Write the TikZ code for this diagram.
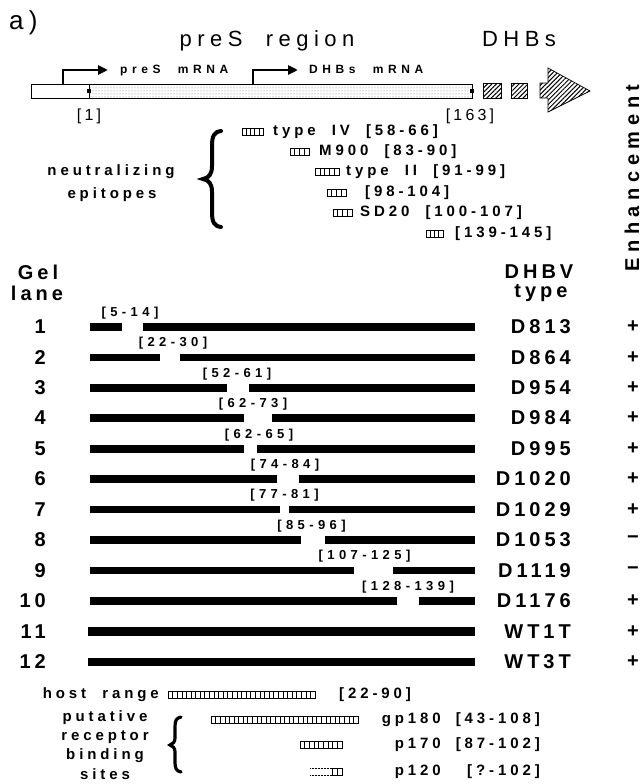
\documentclass[tikz,border=0pt]{standalone}
\usepackage{fontspec}
\setmainfont{Liberation Sans}
\newfontfamily\bigf[LetterSpace=20,WordSpace=2]{Liberation Sans}
\newfontfamily\enhf[LetterSpace=28]{Liberation Sans}
\newfontfamily\ttlf[LetterSpace=25,WordSpace=2]{Liberation Sans}
\newfontfamily\smf[LetterSpace=26,WordSpace=2]{Liberation Sans}
\newfontfamily\lblf[LetterSpace=34]{Liberation Sans}
\newfontfamily\mrnaf[LetterSpace=38,WordSpace=2.2]{Liberation Sans}
\usetikzlibrary{patterns,patterns.meta,arrows.meta}
\newcommand\vbarbox[3]{%
  \pgfmathsetmacro\vbw{#2-#1}%
  \pgfmathtruncatemacro\vbn{max(2,round(\vbw/4.6))}%
  \pgfmathtruncatemacro\vbm{\vbn-1}%
  \draw[line width=.7pt,fill=white] (#1,#3-3.5) rectangle (#2,#3+3.5);%
  \foreach \k in {1,...,\vbm}{\draw[line width=.55pt] ({#1+\k*\vbw/\vbn},#3-3.5) -- ({#1+\k*\vbw/\vbn},#3+3.5);}%
}
\begin{document}
\begin{tikzpicture}[x=1pt,y=-1pt,
  tbig/.style={inner sep=0pt, font=\fontsize{20}{24}\selectfont\bigf\bfseries},
  ttitle/.style={inner sep=0pt, font=\fontsize{22}{26}\selectfont\ttlf},
  tsm/.style={inner sep=0pt, font=\fontsize{15}{18}\selectfont\smf\bfseries},
  tbot/.style={inner sep=0pt, font=\fontsize{15}{18}\selectfont\smf\bfseries},
  tlab/.style={inner sep=0pt, font=\fontsize{13}{15}\selectfont\lblf\bfseries},
  tmrna/.style={inner sep=0pt, font=\fontsize{12}{14}\selectfont\mrnaf\bfseries},
  tpos/.style={inner sep=0pt, font=\fontsize{16}{19}\selectfont\bigf},
  hatch/.style={line width=.7pt, pattern={Lines[angle=45,distance=3.2pt,line width=1pt]}},
  bentarrow/.style={line width=2.6pt, -{Triangle[length=10pt,width=9pt]}},
  bracestroke/.style={line width=4pt, line cap=round}
]
\useasboundingbox (0,0) rectangle (642,784);
\fill[white] (0,0) rectangle (642,784);

% ---- header
\node[anchor=base west, inner sep=0pt, font=\fontsize{26}{30}\selectfont\bigf] (lbl-a) at (9,30) {a)};
\node[ttitle, anchor=base] (preS) at (267,47) {preS region};
\node[ttitle, anchor=base] (dhbs) at (519,47) {DHBs};

% ---- genome box
\fill[pattern=dots, pattern color=black!55] (89,84) rectangle (472,98);
\draw[line width=.8pt] (31.5,84) rectangle (472,98);
\draw[line width=.5pt] (89,84) -- (89,98);
\fill (87.3,89.3) rectangle (90.7,92.7);
\fill (470.3,89.3) rectangle (473.7,92.7);
\draw[hatch] (483,83.5) rectangle (501,98);
\draw[hatch] (511,83.5) rectangle (527,98);
\draw[hatch] (540,83) -- (548,83) -- (548,68) -- (590,91) -- (548,112) -- (548,98) -- (540,98) -- cycle;

\coordinate (a1s) at (63,84);
\coordinate (a1e) at (108,70);
\coordinate (a2s) at (253,84);
\coordinate (a2e) at (298,70);
\draw[bentarrow] (a1s) |- (a1e);
\draw[bentarrow] (a2s) |- (a2e);
\node[tmrna, anchor=base west] (m1) at (120,74) {preS mRNA};
\node[tmrna, anchor=base west] (m2) at (309,74) {DHBs mRNA};
\node[tpos] (p1) at (89,116) {[1]};
\node[tpos] (p163) at (470,116) {[163]};

% ---- neutralizing epitopes
\node[tsm] (neut) at (111,172) {neutralizing};
\node[tsm] (epit) at (112,195) {epitopes};
\draw[bracestroke] (221,131) .. controls (214,132) and (212,136) .. (212,146) -- (212,166)
  .. controls (212,174) and (209,178) .. (203,179)
  .. controls (209,180) and (212,184) .. (212,192) -- (212,212)
  .. controls (212,222) and (214,226) .. (221,227);
\vbarbox{242}{263}{132}
\node[tsm, anchor=west] (e1) at (273,132) {type IV [58-66]};
\vbarbox{290}{309}{152}
\node[tsm, anchor=west] (e2) at (319,152) {M900 [83-90]};
\vbarbox{315}{339}{172}
\node[tsm, anchor=west] (e3) at (346,172) {type II [91-99]};
\vbarbox{327}{346}{193}
\node[tsm, anchor=west] (e4) at (365,193) {[98-104]};
\vbarbox{333}{352}{213}
\node[tsm, anchor=west] (e5) at (360,213) {SD20 [100-107]};
\vbarbox{426}{443}{234}
\node[tsm, anchor=west] (e6) at (455,234) {[139-145]};

% ---- lanes header
\node[tbig] (gel) at (38,272) {Gel};
\node[tbig] (lane) at (37,293) {lane};
\node[tbig] (dhbv) at (539,272) {DHBV};
\node[tbig] (type) at (541,293) {type};
\node[inner sep=0pt, rotate=90, font=\fontsize{20}{24}\selectfont\enhf\bfseries] (enh) at (632,178) {Enhancement};

% ---- lanes
\foreach \n/\y/\gl/\gr/\lx/\lab/\typ/\sg in {
 1/327/122/143/130/{[5-14]}/D813/+,
 2/357.5/160/180/173/{[22-30]}/D864/+,
 3/388/227/249/237/{[52-61]}/D954/+,
 4/418/244/272/253/{[62-73]}/D984/+,
 5/449/244/257/259/{[62-65]}/D995/+,
 6/479/277/299/285/{[74-84]}/D1020/+,
 7/509.5/280/289/284.5/{[77-81]}/D1029/+,
 8/540/301/325/311.5/{[85-96]}/D1053/−,
 9/570.5/354/393/364.5/{[107-125]}/D1119/−,
 10/601/397/419/408/{[128-139]}/D1176/+}
{
  \fill (90,\y-3.75) rectangle (\gl,\y+3.75);
  \fill (\gr,\y-3.75) rectangle (475,\y+3.75);
  \node[tlab] (lab\n) at (\lx,\y-14) {\lab};
  \node[tbig, anchor=east] (num\n) at (46,\y) {\n};
  \node[tbig, anchor=east] (typ\n) at (571,\y) {\typ};
  \node[tbig] (enh\n) at (633,\y) {\sg};
}
\foreach \n/\y/\typ in {11/631.5/WT1T, 12/662/WT3T}
{
  \fill (88,\y-4.25) rectangle (475,\y+4.25);
  \node[tbig, anchor=east] (num\n) at (46,\y) {\n};
  \node[tbig, anchor=east] (typ\n) at (571,\y) {\typ};
  \node[tbig] (enh\n) at (633,\y) {+};
}

% ---- bottom: host range & receptor binding sites
\node[tbot, anchor=east] (host) at (159,695) {host range};
\vbarbox{168}{315}{695}
\node[tbot, anchor=west] (hr) at (339,695) {[22-90]};
\node[tbot] (put) at (105,718) {putative};
\node[tbot] (rec) at (105,737) {receptor};
\node[tbot] (bin) at (105,756) {binding};
\node[tbot] (sit) at (105,774) {sites};
\draw[line width=3.2pt, line cap=round] (181,717) .. controls (176,718) and (175,721) .. (175,727) -- (175,738)
  .. controls (175,742) and (173,744) .. (170,745)
  .. controls (173,746) and (175,748) .. (175,752) -- (175,762)
  .. controls (175,768) and (176,771) .. (181,772);
\vbarbox{211}{358}{720}
\node[tbot, anchor=east] (gp) at (441,720) {gp180};
\node[tbot, anchor=east] (gpr) at (540,720) {[43-108]};
\vbarbox{300}{342}{745}
\node[tbot, anchor=east] (p170) at (441,745) {p170};
\node[tbot, anchor=east] (p170r) at (540,745) {[87-102]};
\draw[line width=.5pt, densely dotted] (310,768.5) -- (332,768.5);
\draw[line width=.5pt, densely dotted] (310,775.5) -- (332,775.5);
\vbarbox{332}{342}{772}
\node[tbot, anchor=east] (p120) at (441,772) {p120};
\node[tbot, anchor=east] (p120r) at (540,772) {[?-102]};
\end{tikzpicture}
\end{document}
